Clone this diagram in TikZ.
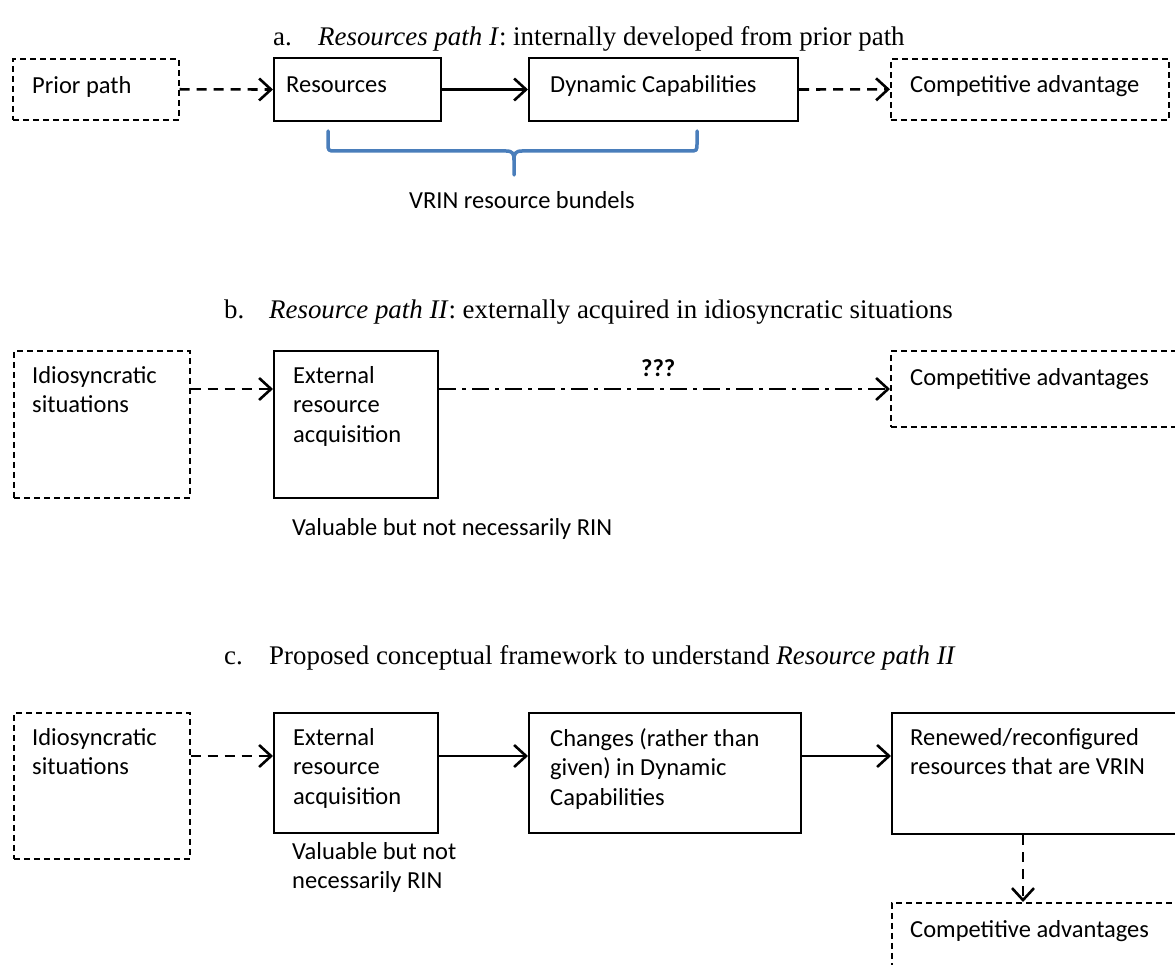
\documentclass[tikz,border=0pt]{standalone}
\usepackage{fontspec}
\setmainfont{Liberation Serif}
\newfontfamily\boxfont{Carlito}
\usetikzlibrary{arrows.meta,calc}
\definecolor{braceblue}{RGB}{74,126,187}
\begin{document}
\begin{tikzpicture}[x=1pt,y=-1pt,
  solidbox/.style={draw=black, line width=2pt, inner sep=0pt, anchor=north west},
  dashbox/.style={draw=black, line width=1.6pt, dash pattern=on 6pt off 4pt, inner sep=0pt, anchor=north west},
  boxtext/.style={font=\boxfont\fontsize{24.5}{29.5}\selectfont, align=left, inner sep=0pt, anchor=north west, execute at begin node=\rule{0pt}{19pt}},
  titletext/.style={font=\fontsize{26.9}{30}\selectfont, inner sep=0pt, anchor=base west},
  conn/.style={line width=2.6pt, -{Straight Barb[length=12pt,width=22pt,line width=2.6pt]}},
  dasharr/.style={conn, dash pattern=on 10pt off 7pt},
  dotarr/.style={conn, dash pattern=on 17pt off 6pt on 4pt off 6pt},
]
\useasboundingbox (0,0) rectangle (1175,965);
\fill[white] (0,0) rectangle (1175,965);
\clip (0,0) rectangle (1175,965);

% ---------- titles
\node[titletext] (ta) at (273,46) {\makebox[45pt][l]{a.}\textit{Resources path I}: internally developed from prior path};
\node[titletext] (tb) at (224,319) {\makebox[45pt][l]{b.}\textit{Resource path II}: externally acquired in idiosyncratic situations};
\node[titletext] (tc) at (224,664) {\makebox[45pt][l]{c.}Proposed conceptual framework to understand \textit{Resource path II}};

% ---------- row a
\node[dashbox, minimum width=166pt, minimum height=61pt] (pp) at (12,58) {};
\node[solidbox, minimum width=167pt, minimum height=63pt] (res) at (273,57) {};
\node[solidbox, minimum width=269pt, minimum height=63pt] (dc) at (528,57) {};
\node[dashbox, minimum width=278pt, minimum height=61pt] (ca) at (890,58) {};
\node[boxtext] (tpp) at ($(pp.north west)+(20,16)$) {Prior path};
\node[boxtext] (tres) at ($(res.north west)+(13,16)$) {Resources};
\node[boxtext] (tdc) at ($(dc.north west)+(22,16)$) {Dynamic Capabilities};
\node[boxtext] (tca) at ($(ca.north west)+(20,15)$) {Competitive advantage};
\draw[dasharr] (pp.east) -- (res.west);
\draw[conn] (res.east) -- (dc.west);
\draw[dasharr] (dc.east) -- (ca.west);

\draw[braceblue, line width=3.5pt, line cap=round, line join=round]
  (328,131) -- (328,143) .. controls (328,151) .. (336,151) -- (506,151)
  .. controls (513,151) and (514,154) .. (514,160) -- (514,175);
\draw[braceblue, line width=3.5pt, line cap=round, line join=round]
  (697,131) -- (697,143) .. controls (697,151) .. (689,151) -- (522,151)
  .. controls (515,151) and (514,154) .. (514,160);
\node[font=\boxfont\fontsize{24.5}{29.5}\selectfont, inner sep=0pt] (vrin) at (522,200) {VRIN resource bundels};

% ---------- row b
\node[dashbox, minimum width=176pt, minimum height=147pt] (is1) at (13,350) {};
\node[solidbox, minimum width=164pt, minimum height=147pt] (era1) at (273,350) {};
\node[dashbox, minimum width=300pt, minimum height=76pt] (ca1) at (890,350) {};
\node[boxtext] (tis1) at ($(is1.north west)+(19,16)$) {Idiosyncratic\\situations};
\node[boxtext] (tera1) at ($(era1.north west)+(20,16)$) {External\\resource\\acquisition};
\node[boxtext] (tca1) at ($(ca1.north west)+(20,16)$) {Competitive advantages};
\node[boxtext] (val1) at (292,516) {Valuable but not necessarily RIN};
\draw[dasharr] ($(is1.north east)+(0,39)$) -- ($(era1.north west)+(0,39)$);
\draw[dotarr] ($(era1.north east)+(0,39)$) -- node[pos=0.486, yshift=21pt, font=\boxfont\bfseries\fontsize{24.5}{29.5}\selectfont, inner sep=0pt] (qq) {???} ($(ca1.north west)+(0,39)$);

% ---------- row c
\node[dashbox, minimum width=176pt, minimum height=146pt] (is2) at (13,712) {};
\node[solidbox, minimum width=164pt, minimum height=120pt] (era2) at (273,712) {};
\node[solidbox, minimum width=272pt, minimum height=120pt] (ch) at (528,712) {};
\node[solidbox, minimum width=300pt, minimum height=121pt] (rn) at (891,712) {};
\node[dashbox, minimum width=300pt, minimum height=100pt] (ca2) at (891,902) {};
\node[boxtext] (tis2) at ($(is2.north west)+(19,16)$) {Idiosyncratic\\situations};
\node[boxtext] (tera2) at ($(era2.north west)+(20,16)$) {External\\resource\\acquisition};
\node[boxtext] (tch) at ($(ch.north west)+(22,16)$) {Changes (rather than\\given) in Dynamic\\Capabilities};
\node[boxtext] (trn) at ($(rn.north west)+(19,16)$) {Renewed/reconfigured\\resources that are VRIN};
\node[boxtext] (tca2) at ($(ca2.north west)+(19,16)$) {Competitive advantages};
\node[boxtext] (val2) at (292,842) {Valuable but not\\necessarily RIN};
\draw[dasharr] ($(is2.north east)+(0,44)$) -- ($(era2.north west)+(0,44)$);
\draw[conn] ($(era2.north east)+(0,44)$) -- ($(ch.north west)+(0,44)$);
\draw[conn] ($(ch.north east)+(0,44)$) -- ($(rn.north west)+(0,44)$);
\draw[dasharr] ($(rn.south west)+(132,0)$) -- ($(ca2.north west)+(132,0)$);
\end{tikzpicture}
\end{document}
